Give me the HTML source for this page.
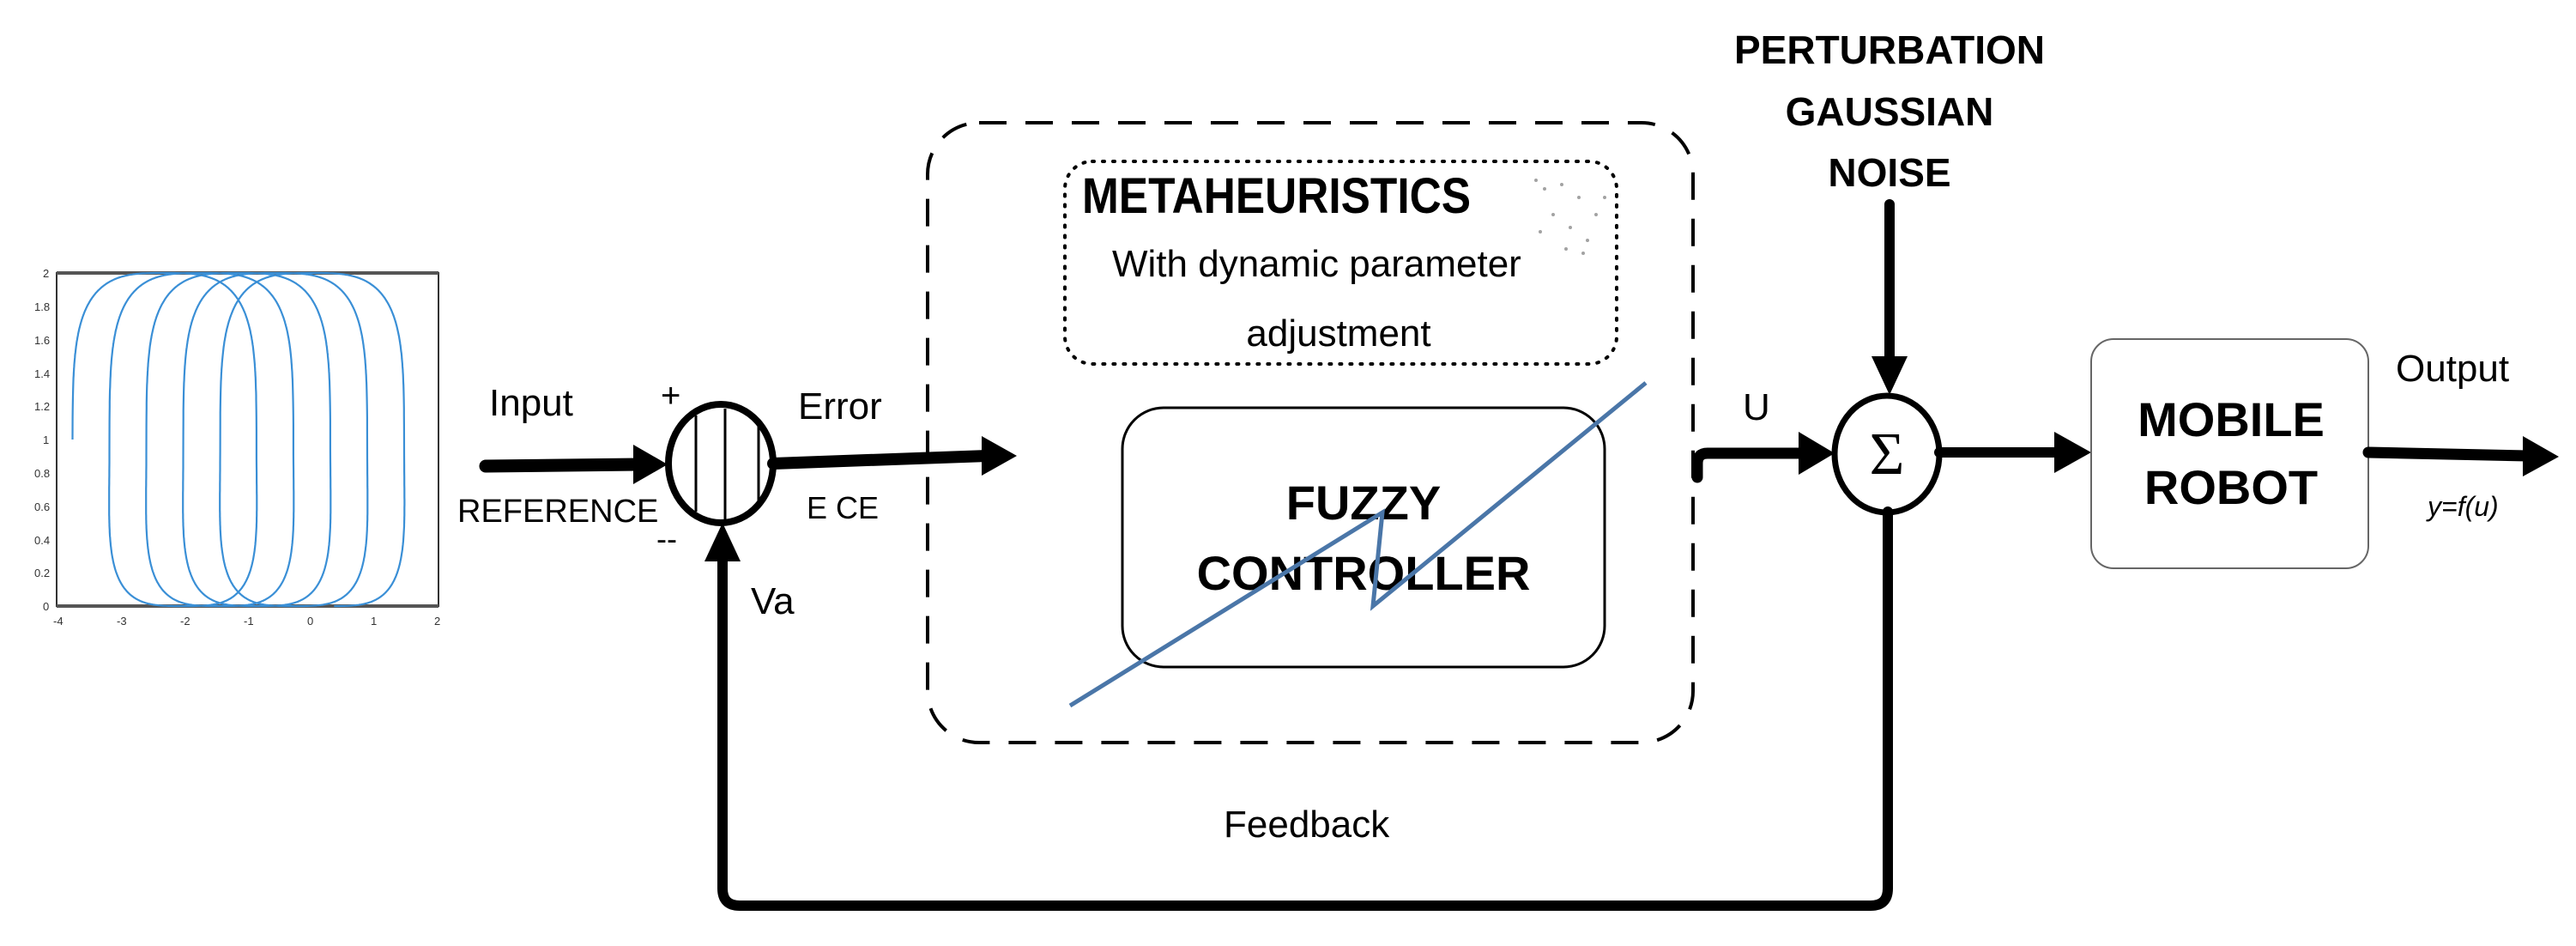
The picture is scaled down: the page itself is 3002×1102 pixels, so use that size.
<!DOCTYPE html>
<html><head><meta charset="utf-8"><style>
html,body{margin:0;padding:0;background:#fff;}
svg{display:block;}
text{font-family:"Liberation Sans",sans-serif;}
</style></head><body>
<svg id="s" width="3002" height="1102" viewBox="0 0 3002 1102" xmlns="http://www.w3.org/2000/svg">
<rect width="3002" height="1102" fill="#fff"/>
<!-- plot -->
<g>
<rect x="66" y="318" width="445" height="388" fill="none" stroke="#333" stroke-width="2"/>
<line x1="66" y1="318" x2="511" y2="318" stroke="#555" stroke-width="4"/>
<line x1="66" y1="706" x2="511" y2="706" stroke="#555" stroke-width="4"/>
<path id="spiral" fill="none" stroke="#3a8fd6" stroke-width="2.2"/>
<g font-size="13" fill="#333">
<text x="50" y="323">2</text><text x="40" y="362">1.8</text><text x="40" y="401">1.6</text><text x="40" y="440">1.4</text><text x="40" y="478">1.2</text><text x="50" y="517">1</text><text x="40" y="556">0.8</text><text x="40" y="595">0.6</text><text x="40" y="634">0.4</text><text x="40" y="672">0.2</text><text x="50" y="711">0</text>
<text x="62" y="728">-4</text><text x="136" y="728">-3</text><text x="210" y="728">-2</text><text x="284" y="728">-1</text><text x="358" y="728">0</text><text x="432" y="728">1</text><text x="506" y="728">2</text>
</g>
</g>
<!-- input arrow -->
<line x1="566" y1="543" x2="745" y2="541" stroke="#000" stroke-width="15" stroke-linecap="round"/>
<polygon points="738,518 778,541 738,564" fill="#000"/>
<text x="570" y="484" font-size="44">Input</text>
<text x="533" y="608" font-size="38">REFERENCE</text>
<text x="770" y="474" font-size="40">+</text>
<text x="765" y="640" font-size="36">--</text>
<!-- sum 1 -->
<ellipse cx="840" cy="540" rx="61" ry="69" fill="#fff" stroke="#000" stroke-width="8"/>
<line x1="811" y1="484" x2="811" y2="596" stroke="#000" stroke-width="3"/>
<line x1="845" y1="476" x2="845" y2="605" stroke="#000" stroke-width="3"/>
<line x1="884" y1="494" x2="884" y2="588" stroke="#000" stroke-width="3"/>
<!-- error arrow -->
<line x1="901" y1="540" x2="1150" y2="531" stroke="#000" stroke-width="14" stroke-linecap="round"/>
<polygon points="1144,508 1185,531 1144,554" fill="#000"/>
<text x="930" y="488" font-size="44">Error</text>
<text x="940" y="604" font-size="36">E  CE</text>
<text x="875" y="715" font-size="44">Va</text>
<!-- dashed box -->
<rect x="1081" y="143" width="892" height="722" rx="60" fill="none" stroke="#000" stroke-width="4" stroke-dasharray="32,22"/>
<!-- dotted box -->
<rect x="1241" y="188" width="643" height="236" rx="32" fill="none" stroke="#000" stroke-width="4" stroke-dasharray="2,10" stroke-linecap="round"/>
<g fill="#666" opacity="0.6">
<circle cx="1790" cy="210" r="2"/><circle cx="1800" cy="220" r="2"/><circle cx="1820" cy="215" r="2"/><circle cx="1840" cy="230" r="2"/><circle cx="1810" cy="250" r="2"/><circle cx="1830" cy="265" r="2"/><circle cx="1850" cy="280" r="2"/><circle cx="1860" cy="250" r="2"/><circle cx="1795" cy="270" r="2"/><circle cx="1870" cy="230" r="2"/><circle cx="1845" cy="295" r="2"/><circle cx="1825" cy="290" r="2"/>
</g>
<text x="1261" y="248" font-size="58" font-weight="bold" textLength="453" lengthAdjust="spacingAndGlyphs">METAHEURISTICS</text>
<text x="1296" y="322" font-size="44">With dynamic parameter</text>
<text x="1560" y="403" font-size="44" text-anchor="middle">adjustment</text>
<!-- fuzzy box -->
<rect x="1308" y="475" width="562" height="302" rx="48" fill="#fff" stroke="#000" stroke-width="3"/>
<text x="1589" y="605" font-size="56" font-weight="bold" text-anchor="middle">FUZZY</text>
<text x="1589" y="687" font-size="56" font-weight="bold" text-anchor="middle">CONTROLLER</text>
<polyline points="1247,822 1611,597 1600,706 1918,446" fill="none" stroke="#4a76a8" stroke-width="5"/>
<!-- U connector -->
<path d="M1978,556 L1978,540 Q1978,528 1990,528 L2100,528" fill="none" stroke="#000" stroke-width="13" stroke-linecap="round"/>
<polygon points="2096,503 2138,528 2096,553" fill="#000"/>
<text x="2031" y="489" font-size="44">U</text>
<!-- noise -->
<text x="2202" y="74" font-size="46" font-weight="bold" text-anchor="middle">PERTURBATION</text>
<text x="2202" y="146" font-size="46" font-weight="bold" text-anchor="middle">GAUSSIAN</text>
<text x="2202" y="217" font-size="46" font-weight="bold" text-anchor="middle">NOISE</text>
<line x1="2202" y1="238" x2="2202" y2="420" stroke="#000" stroke-width="12" stroke-linecap="round"/>
<polygon points="2181,415 2223,415 2202,460" fill="#000"/>
<!-- sum 2 -->
<ellipse cx="2199" cy="529" rx="61" ry="68" fill="#fff" stroke="#000" stroke-width="7"/>
<text x="2199" y="552" font-size="70" text-anchor="middle" style="font-family:'Liberation Serif',serif">Σ</text>
<line x1="2260" y1="527" x2="2400" y2="527" stroke="#000" stroke-width="12" stroke-linecap="round"/>
<polygon points="2394,503 2437,527 2394,551" fill="#000"/>
<!-- mobile robot -->
<rect x="2437" y="395" width="323" height="267" rx="26" fill="#fff" stroke="#666" stroke-width="2"/>
<text x="2600" y="508" font-size="56" font-weight="bold" text-anchor="middle">MOBILE</text>
<text x="2600" y="587" font-size="56" font-weight="bold" text-anchor="middle">ROBOT</text>
<text x="2792" y="444" font-size="44">Output</text>
<line x1="2760" y1="527" x2="2945" y2="531" stroke="#000" stroke-width="13" stroke-linecap="round"/>
<polygon points="2940,508 2982,532 2940,555" fill="#000"/>
<text x="2829" y="601" font-size="32" font-style="italic">y=f(u)</text>
<!-- feedback -->
<path d="M2200,596 L2200,1035 Q2200,1055 2180,1055 L862,1055 Q842,1055 842,1035 L842,650" fill="none" stroke="#000" stroke-width="12" stroke-linecap="round"/>
<polygon points="821,654 863,654 842,609" fill="#000"/>
<text x="1426" y="975" font-size="44">Feedback</text>
</svg>
<script>
(function(){
 var X=function(v){return 66+(v+4)/6*445;}, Y=function(v){return 706-v/2*388;};
 var sp=function(v,p){return (v<0?-1:1)*Math.pow(Math.abs(v),p);};
 var R=1.3,k=0.58/(2*Math.PI),x0=-3.75+R,d="";
 var tEnd=2*Math.PI*4+Math.PI*1.5;
 for(var t=0;t<=tEnd;t+=0.01){
  var x=x0+k*t-R*sp(Math.cos(t),0.6), y=1+sp(Math.sin(t),0.45);
  if(y>2)y=2; if(y<0)y=0;
  d+=(t===0?"M":"L")+X(x).toFixed(1)+","+Y(y).toFixed(1);
 }
 document.getElementById("spiral").setAttribute("d",d);
})();
</script>
</body></html>
